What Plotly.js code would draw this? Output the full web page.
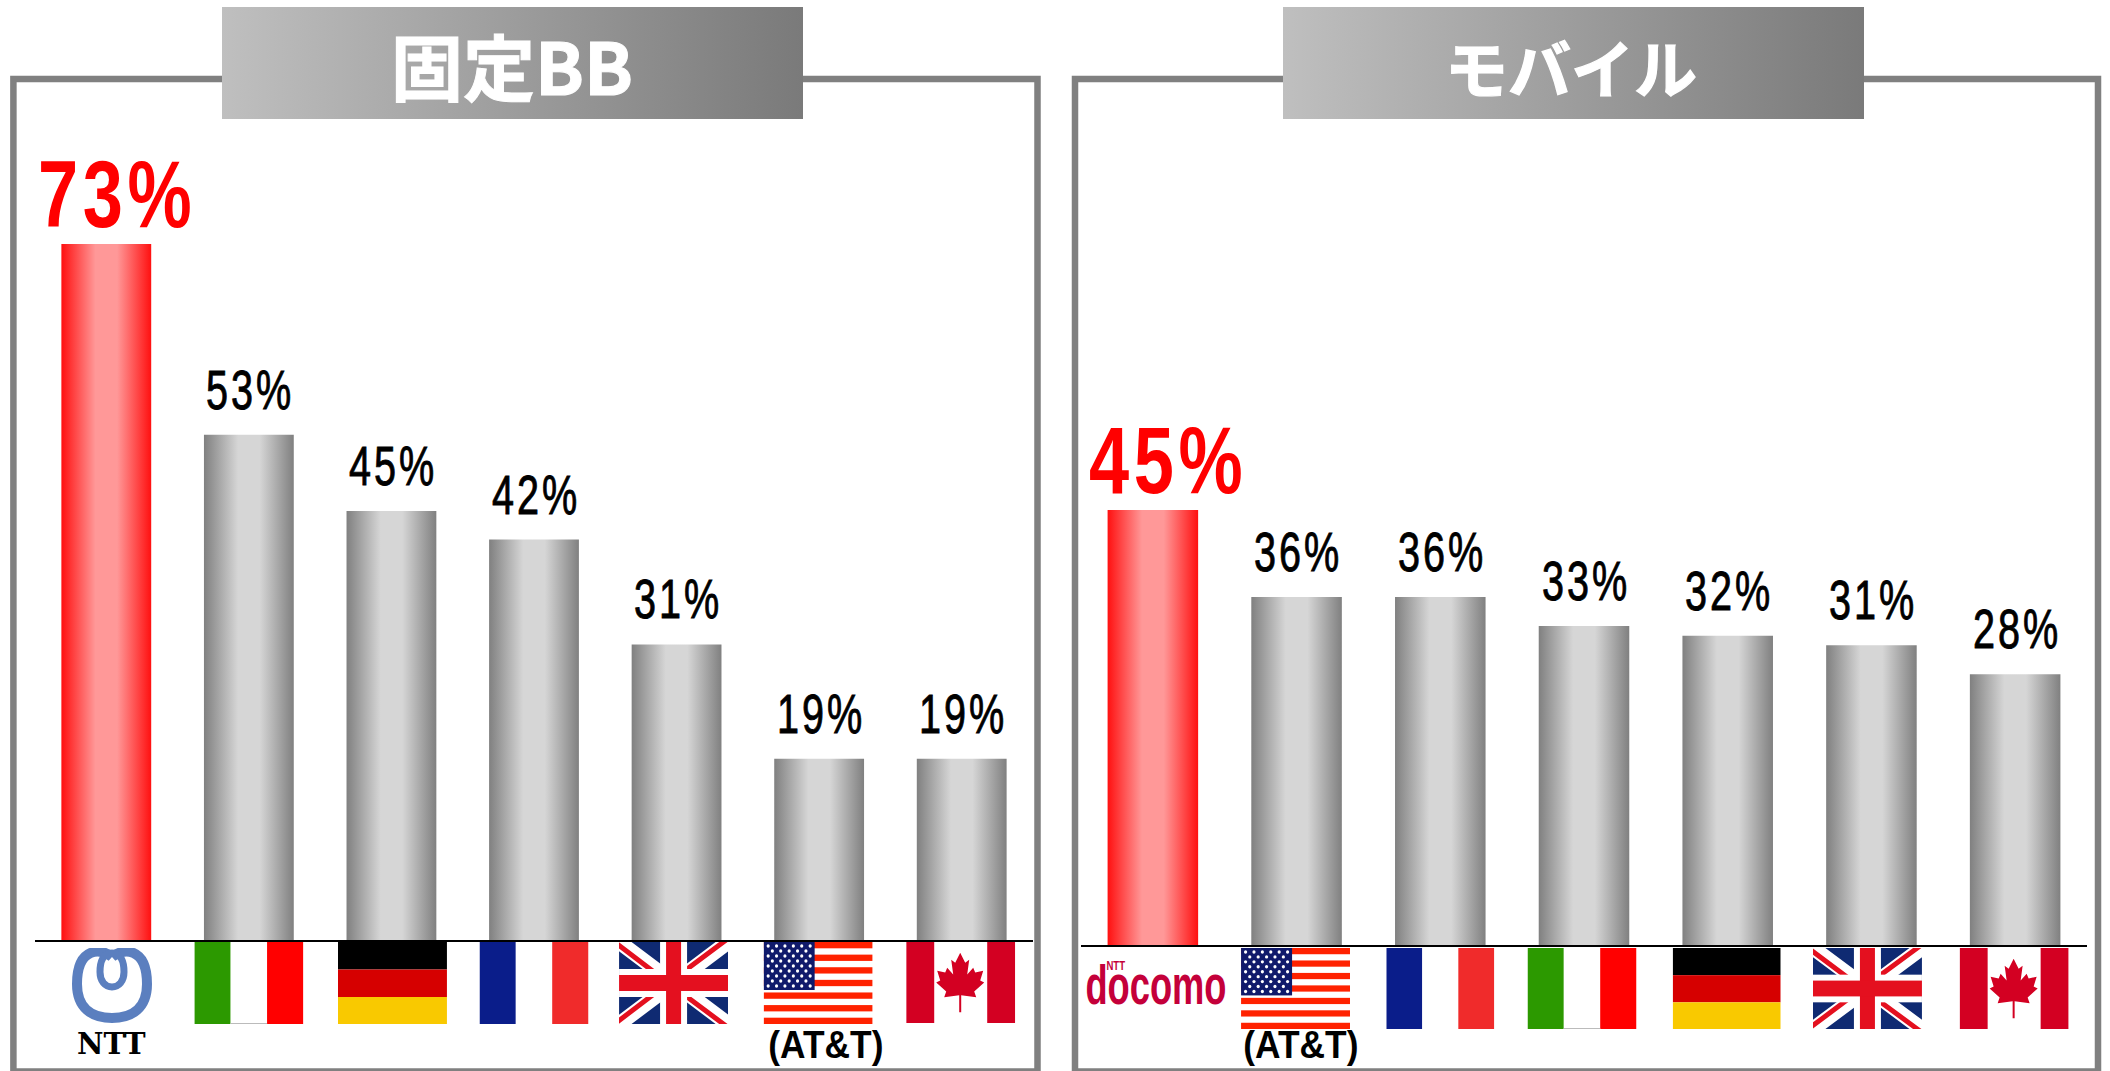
<!DOCTYPE html>
<html>
<head>
<meta charset="utf-8">
<script src="https://cdn.plot.ly/plotly-3.0.1.min.js"></script>
<style>html,body{margin:0;padding:0;background:#fff;overflow:hidden}</style>
</head>
<body>
<div id="chart" style="width:2110px;height:1071px"></div>
<script>
var fixedCategories = ['NTT','イタリア','ドイツ','フランス','イギリス','アメリカ','カナダ'];
var fixedValues = [73,53,45,42,31,19,19];
var mobileCategories = ['NTTドコモ','アメリカ','フランス','イタリア','ドイツ','イギリス','カナダ'];
var mobileValues = [45,36,36,33,32,31,28];
var panelTitles = ['固定BB','モバイル'];

var W = 2110, H = 1071;
var px = function(x){return x/W;}, py = function(y){return 1-y/H;};
var uri = function(s){return 'data:image/svg+xml;charset=utf-8,'+encodeURIComponent(s);};
var svg = function(w,h,body,extra){return '<svg xmlns="http://www.w3.org/2000/svg" width="'+w+'" height="'+h+'" viewBox="0 0 '+w+' '+h+'" preserveAspectRatio="none">'+(extra||'')+body+'</svg>';};
var r = function(x,y,w,h,c){return '<rect x="'+x+'" y="'+y+'" width="'+w+'" height="'+h+'" fill="'+c+'"/>';};

var flags = {};
flags.it = svg(109,82, r(0,0,36.3,82,'#2c9900')+r(36.3,0,36.4,82,'#fff')+r(72.7,0,36.3,82,'#ff0000')+r(36.3,81,36.4,1,'#bbb'));
flags.de = svg(109,82, r(0,0,109,27.5,'#000')+r(0,27.5,109,27.5,'#d60000')+r(0,55,109,27,'#f9c900'));
flags.fr = svg(109,82, r(0,0,36.3,82,'#0a1d8a')+r(36.3,0,36.4,82,'#fff')+r(72.7,0,36.3,82,'#f02b2b'));
flags.uk = svg(109,82, r(0,0,109,82,'#0f2a72')
  +'<path d="M0,0L109,82M109,0L0,82" stroke="#fff" stroke-width="15"/>'
  +'<path d="M0,0L54,41M109,82L54,41" stroke="#e4101f" stroke-width="5" transform="translate(-2,2)"/>'
  +'<path d="M109,0L54,41M0,82L54,41" stroke="#e4101f" stroke-width="5" transform="translate(-2,-2)"/>'
  +r(41,0,27,82,'#fff')+r(0,27,109,28,'#fff')+r(47,0,15,82,'#e4101f')+r(0,33,109,16,'#e4101f'));
(function(){
  var b = r(0,0,109,82,'#fff');
  for(var i=0;i<7;i++) b += r(0,i*2*82/13,109,82/13,'#ff2200');
  b += r(0,0,51,48,'#101a6b');
  for(var row=0;row<9;row++){
    var n = row%2?5:6;
    for(var c=0;c<n;c++) b += '<ellipse cx="'+(4.5+c*8.4+(row%2?4.2:0))+'" cy="'+(4+row*5)+'" rx="1.6" ry="1.7" fill="#fff"/>';
  }
  flags.us = svg(109,82,b);
})();
flags.ca = svg(109,82, r(0,0,109,82,'#fff')+r(0,0,28,82,'#d30022')+r(81,0,28,82,'#d30022')
  +'<polygon fill="#d30022" points="54,11 59,21 63,18 61,33 67,26 69,31 77,29 74,39 78,41 68,50 70,56 55,54 55,71 53,71 53,54 38,56 40,50 30,41 34,39 31,29 39,31 41,26 47,33 45,18 49,21"/>');
flags.ntt = svg(80,75,'<g fill="none" stroke="#5b7fbf"><path stroke-width="10" d="M40,9 C30,0 5,-2 5,36 C5,60 20,70 40,70 C60,70 75,60 75,36 C75,-2 50,0 40,9"/><path stroke-width="7" d="M40,5 C31,5 28,14 28,24 C28,33 33,39 40,39 C47,39 52,33 52,24 C52,14 49,5 40,5"/></g>');
var titleBar = svg(581,112,r(0,0,581,112,'url(#g)'),'<defs><linearGradient id="g"><stop offset="0" stop-color="#bfbfbf"/><stop offset="1" stop-color="#7a7a7a"/></linearGradient></defs>');

function flagImage(key,axis,idx,left,right,top,bottom,unit){
  return {source:uri(flags[key]),xref:axis,yref:'paper',x:idx+(left+right)/2/unit,xanchor:'center',
    sizex:(right-left)/unit,y:py(top),yanchor:'top',sizey:(bottom-top)/H,sizing:'stretch',layer:'above'};
}
var uL = 142.57, uR = 143.71;
var images = [
  {source:uri(flags.ntt),xref:'paper',yref:'paper',x:px(72),sizex:80/W,y:py(948),sizey:75/H,xanchor:'left',yanchor:'top',sizing:'stretch',layer:'above'},
  flagImage('it','x',1,-54.5,54.5,942,1024,uL),
  flagImage('de','x',2,-54.5+1,54.5+1,942,1024,uL),
  flagImage('fr','x',3,-54.5,54.5,942,1024,uL),
  flagImage('uk','x',4,-54.5-3,54.5-3,942,1024,uL),
  flagImage('us','x',5,-54.5-1,54.5-1,942,1024,uL),
  flagImage('ca','x',6,-54.5-1,54.5-1,942,1023,uL),
  flagImage('us','x2',1,-54.5-1,54.5-1,948,1029,uR),
  flagImage('fr','x2',2,-54,54,948,1029,uR),
  flagImage('it','x2',3,-54.5-2,54.5-2,948,1029,uR),
  flagImage('de','x2',4,-54-1,54-1,948,1029,uR),
  flagImage('uk','x2',5,-54.5-4,54.5-4,948,1029,uR),
  flagImage('ca','x2',6,-54.5-1,54.5-1,948,1029,uR),
  {source:uri(titleBar),xref:'paper',yref:'paper',x:px(222),sizex:581/W,y:py(7),sizey:112/H,xanchor:'left',yanchor:'top',sizing:'stretch',layer:'above'},
  {source:uri(titleBar),xref:'paper',yref:'paper',x:px(1283),sizex:581/W,y:py(7),sizey:112/H,xanchor:'left',yanchor:'top',sizing:'stretch',layer:'above'}
];

var SANS = '"Liberation Sans",Arial,sans-serif';
var annotations = [], textFx = [];
function labels(values,xa,ya){
  values.forEach(function(v,i){
    var hi = i===0;
    annotations.push({xref:xa,yref:ya,x:i,y:v,text:v+'%',showarrow:false,xanchor:'center',yanchor:'bottom',
      xshift:hi?(xa==='x'?11:15):1.5,yshift:hi?-5:12,
      font:{family:SANS,size:hi?95:55,color:hi?'#ff0000':'#000000',weight:hi?'bold':'normal'}});
    textFx.push(hi?{k:0.76,gap:6}:{k:0.72,gap:4,stroke:'#000000',sw:0.9});
  });
}
labels(fixedValues,'x','y');
labels(mobileValues,'x2','y2');
function note(text,x,y,size,family,color,weight,fx){
  annotations.push({xref:'paper',yref:'paper',x:px(x),y:py(y),text:text,showarrow:false,xanchor:'center',yanchor:'middle',
    font:{family:family,size:size,color:color,weight:weight||'normal'}});
  textFx.push(fx||{k:1});
}
var CJK = '"Noto Sans CJK JP",sans-serif';
note(panelTitles[0],512,63,72,CJK,'#ffffff','bold',{k:1,stroke:'#ffffff',sw:1});
note(panelTitles[1],1571,65,63,CJK,'#ffffff','bold',{k:1,stroke:'#ffffff',sw:1.2});
note('NTT',111,1044,29,'"DejaVu Serif",serif','#000000','bold');
note('(AT&amp;T)',826,1045,38,SANS,'#000000','bold',{k:0.93});
note('(AT&amp;T)',1301,1045,38,SANS,'#000000','bold',{k:0.93});
note('docomo',1156,985,55,SANS,'#c4003a','bold',{k:0.66});
note('NTT',1116,966,12,SANS,'#c4003a','bold',{k:0.8});

function frame(l,r2){
  return {type:'rect',xref:'paper',yref:'paper',x0:px(l),x1:px(r2),y0:py(1071.5),y1:py(79),
    line:{color:'#808080',width:6.5},fillcolor:'rgba(0,0,0,0)',layer:'below'};
}
function colors(values){return values.map(function(v,i){return i===0?'#ff8080':'#b0b0b0';});}
function trace(cats,vals,xa,ya){
  return {type:'bar',x:cats,y:vals,xaxis:xa,yaxis:ya,marker:{color:colors(vals),line:{width:0}},hoverinfo:'x+y',showlegend:false,cliponaxis:false};
}
function xAxis(l,r2,anchor){
  return {domain:[px(l),px(r2)],anchor:anchor,type:'category',range:[-0.5,6.5],autorange:false,showline:true,linecolor:'#000000',linewidth:2,
    showticklabels:false,ticks:'',showgrid:false,zeroline:false,fixedrange:true};
}
function yAxis(base,top,anchor){
  return {domain:[py(base),py(top)],anchor:anchor,range:[0,80],autorange:false,visible:false,showgrid:false,zeroline:false,fixedrange:true};
}
var layout = {
  width:W,height:H,margin:{l:0,r:0,t:0,b:0,pad:0},paper_bgcolor:'#ffffff',plot_bgcolor:'rgba(0,0,0,0)',
  bargap:0.37,showlegend:false,
  xaxis:xAxis(35,1033,'y'),yaxis:yAxis(940,940-80*696/73,'x'),
  xaxis2:xAxis(1081,2087,'y2'),yaxis2:yAxis(945,945-80*435/45,'x2'),
  shapes:[frame(13.4,1037.5),frame(1075,2098)],
  images:images,annotations:annotations
};
Plotly.newPlot('chart',[trace(fixedCategories,fixedValues,'x','y'),trace(mobileCategories,mobileValues,'x2','y2')],layout,{displayModeBar:false,staticPlot:true}).then(function(gd){
  var NS='http://www.w3.org/2000/svg';
  var defs=gd.querySelector('.main-svg defs');
  function grad(id,stops){
    var g=document.createElementNS(NS,'linearGradient');g.setAttribute('id',id);
    stops.forEach(function(s){var e=document.createElementNS(NS,'stop');e.setAttribute('offset',s[0]);e.setAttribute('stop-color',s[1]);g.appendChild(e);});
    defs.appendChild(g);
  }
  grad('barGrey',[[0,'#808080'],[0.38,'#d6d6d6'],[0.62,'#d6d6d6'],[1,'#808080']]);
  grad('barRed',[[0,'#ff1010'],[0.38,'#ff9898'],[0.62,'#ff9898'],[1,'#ff1010']]);
  gd.querySelectorAll('.barlayer .trace').forEach(function(t){
    t.querySelectorAll('.point path').forEach(function(p,i){
      p.style.fill=(i===0)?'url(#barRed)':'url(#barGrey)';
    });
  });
  gd.querySelectorAll('.annotation').forEach(function(a){
    var fx=textFx[+a.getAttribute('data-index')];
    if(!fx) return;
    var t=a.querySelector('text');
    if(fx.gap) t.style.letterSpacing=fx.gap+'px';
    if(fx.stroke){t.style.stroke=fx.stroke;t.style.strokeWidth=fx.sw+'px';}
    if(fx.k!==1){
      var b=t.getBBox(), cx=b.x+b.width/2;
      t.setAttribute('transform','translate('+cx+',0) scale('+fx.k+',1) translate('+(-cx)+',0)');
    }
  });
});
</script>
</body>
</html>
